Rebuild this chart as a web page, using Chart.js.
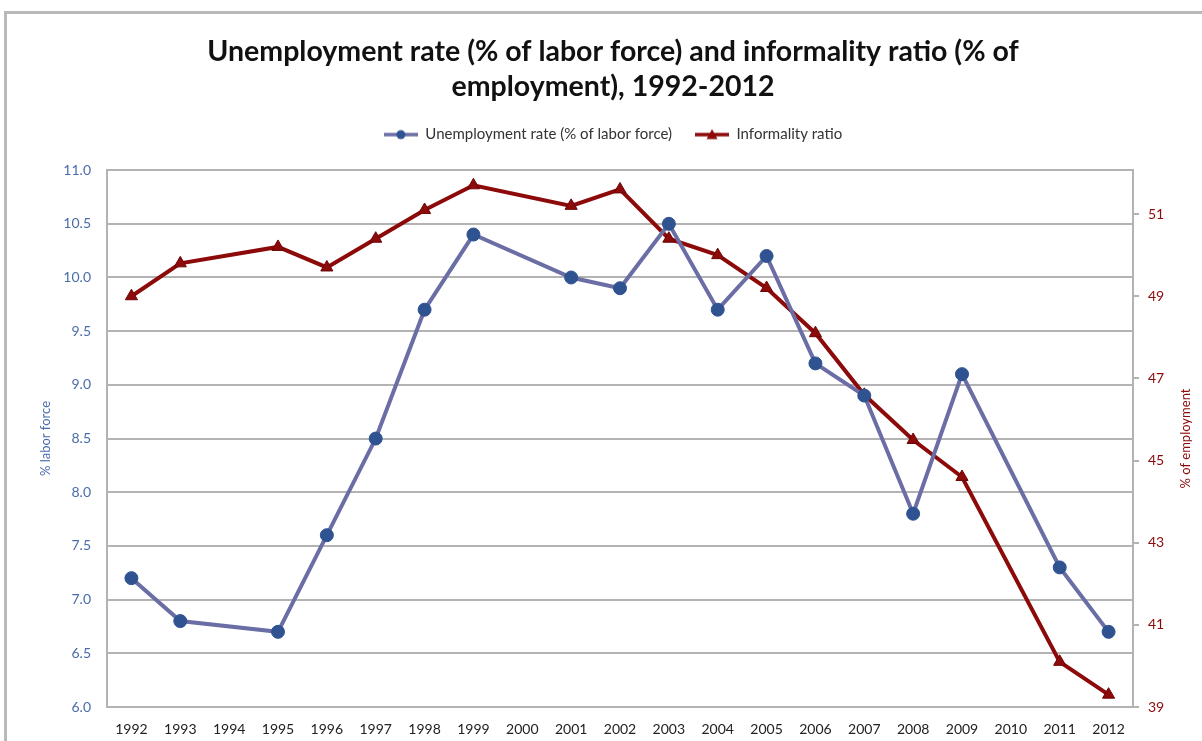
<!DOCTYPE html>
<html lang="en">
<head>
  <meta charset="UTF-8" />
  <title>Unemployment rate and informality ratio, 1992-2012</title>
  <script src="https://cdn.jsdelivr.net/npm/chart.js"></script>
  <style>
    html, body {
      margin: 0;
      padding: 0;
      background: #fff;
      overflow: hidden;
    }
    #frame {
      position: absolute;
      left: 4px;
      top: 11px;
      width: 1220px;
      height: 780px;
      border: 3px solid #b9b9b9;
      box-sizing: border-box;
    }
    #wrap {
      position: absolute;
      left: 0;
      top: 0;
      width: 1202px;
      height: 741px;
    }
  </style>
</head>
<body>

<div id="frame"></div>
<div id="wrap"><canvas id="chart" width="1202" height="741"></canvas></div>

<script>
  // Series (gaps where no observation)
  const years = ['1992', '1993', '1994', '1995', '1996', '1997', '1998', '1999', '2000', '2001', '2002',
                 '2003', '2004', '2005', '2006', '2007', '2008', '2009', '2010', '2011', '2012'];
  const unemployment = [7.2, 6.8, null, 6.7, 7.6, 8.5, 9.7, 10.4, null, 10.0, 9.9,
                        10.5, 9.7, 10.2, 9.2, 8.9, 7.8, 9.1, null, 7.3, 6.7];
  const informality = [49.0, 49.8, null, 50.2, 49.7, 50.4, 51.1, 51.7, null, 51.2, 51.6,
                       50.4, 50.0, 49.2, 48.1, 46.6, 45.5, 44.6, null, 40.1, 39.3];
  const rightTicks = [39, 41, 43, 45, 47, 49, 51];

  const FONT = 'Lato, "Open Sans", sans-serif';
  const BLUE_LINE = '#6a6ea4';
  const BLUE_DOT = '#2f5291';
  const BLUE_TEXT = '#4a6cab';
  const RED = '#8c0a0a';
  const GRID = '#b3b3b3';

  // small line+marker icons for the legend
  function legendIcon(kind) {
    const c = document.createElement('canvas');
    c.width = 34; c.height = 14;
    const g = c.getContext('2d');
    g.strokeStyle = kind === 'circle' ? BLUE_LINE : RED;
    g.lineWidth = 3.5;
    g.beginPath(); g.moveTo(0, 7); g.lineTo(34, 7); g.stroke();
    g.fillStyle = kind === 'circle' ? BLUE_DOT : RED;
    g.beginPath();
    if (kind === 'circle') {
      g.arc(17, 7, 4.5, 0, Math.PI * 2);
    } else {
      g.moveTo(17, 1.5); g.lineTo(22.5, 11.5); g.lineTo(11.5, 11.5); g.closePath();
    }
    g.fill();
    return c;
  }
  const icons = [legendIcon('circle'), legendIcon('triangle')];

  // extra room between legend and plot
  const legendGap = {
    id: 'legendGap',
    afterInit(chart) {
      const lg = chart.legend;
      const fit = lg.fit.bind(lg);
      lg.fit = function () { fit(); this.height += 18; };
    }
  };

  // right-hand axis title, reads bottom-to-top like the left one
  const rightTitle = {
    id: 'rightTitle',
    afterDraw(chart) {
      const { ctx, chartArea } = chart;
      ctx.save();
      ctx.translate(1186, (chartArea.top + chartArea.bottom) / 2);
      ctx.rotate(-Math.PI / 2);
      ctx.font = '13px ' + FONT;
      ctx.fillStyle = RED;
      ctx.textAlign = 'center';
      ctx.textBaseline = 'middle';
      ctx.fillText('% of employment', 0, 0);
      ctx.restore();
    }
  };

  new Chart(document.getElementById('chart'), {
    type: 'line',
    data: {
      labels: years,
      datasets: [
        {
          label: 'Unemployment rate (% of labor force)',
          data: unemployment,
          yAxisID: 'y',
          borderColor: BLUE_LINE,
          borderWidth: 4,
          pointStyle: 'circle',
          pointRadius: 6.5,
          pointBackgroundColor: BLUE_DOT,
          pointBorderColor: BLUE_DOT,
          pointBorderWidth: 1,
          spanGaps: true,
          tension: 0
        },
        {
          label: 'Informality ratio',
          data: informality,
          yAxisID: 'y1',
          borderColor: RED,
          borderWidth: 4,
          pointStyle: 'triangle',
          pointRadius: 7,
          pointBackgroundColor: RED,
          pointBorderColor: '#6e0505',
          pointBorderWidth: 1,
          spanGaps: true,
          tension: 0
        }
      ]
    },
    options: {
      responsive: false,
      animation: false,
      layout: { padding: { left: 24, right: 0, top: 0, bottom: 0 } },
      plugins: {
        title: {
          display: true,
          text: ['Unemployment rate (% of labor force) and informality ratio (% of', 'employment), 1992-2012'],
          color: '#111',
          font: { family: FONT, size: 28.5, weight: 'bold', lineHeight: 1.23 },
          padding: { top: 34, bottom: 0 }
        },
        legend: {
          display: true,
          labels: {
            usePointStyle: true,
            pointStyleWidth: 34,
            padding: 23,
            color: '#333',
            font: { family: FONT, size: 15 },
            generateLabels: chart => chart.data.datasets.map((ds, i) => ({
              text: ds.label,
              pointStyle: icons[i],
              fontColor: '#333',
              datasetIndex: i,
              hidden: false,
              lineWidth: 0,
              strokeStyle: 'transparent',
              fillStyle: 'transparent'
            }))
          }
        },
        tooltip: { enabled: false }
      },
      scales: {
        x: {
          offset: true,
          grid: { display: false },
          border: { display: false },
          ticks: {
            color: '#222',
            font: { family: FONT, size: 14 },
            maxRotation: 0,
            autoSkip: false,
            padding: 6
          },
          afterFit: s => { s.height = 34; }
        },
        y: {
          position: 'left',
          min: 6,
          max: 11,
          grid: { color: GRID, lineWidth: 2, drawTicks: false },
          border: { display: true, color: GRID, width: 2 },
          ticks: {
            stepSize: 0.5,
            color: BLUE_TEXT,
            font: { family: FONT, size: 14 },
            padding: 16,
            callback: v => v.toFixed(1)
          },
          title: {
            display: true,
            text: '% labor force',
            color: BLUE_TEXT,
            font: { family: FONT, size: 13 },
            padding: { top: 14, bottom: 0 }
          },
          afterFit: s => { s.width = 83; }
        },
        y1: {
          position: 'right',
          min: 39,
          max: 52.07,
          grid: { drawOnChartArea: false, color: GRID, lineWidth: 2, tickLength: 6 },
          border: { display: true, color: GRID, width: 2 },
          ticks: {
            color: RED,
            font: { family: FONT, size: 14 },
            padding: 9
          },
          afterBuildTicks: s => { s.ticks = rightTicks.map(v => ({ value: v })); },
          afterFit: s => { s.width = 69; }
        }
      }
    },
    plugins: [legendGap, rightTitle]
  });
</script>

</body>
</html>
